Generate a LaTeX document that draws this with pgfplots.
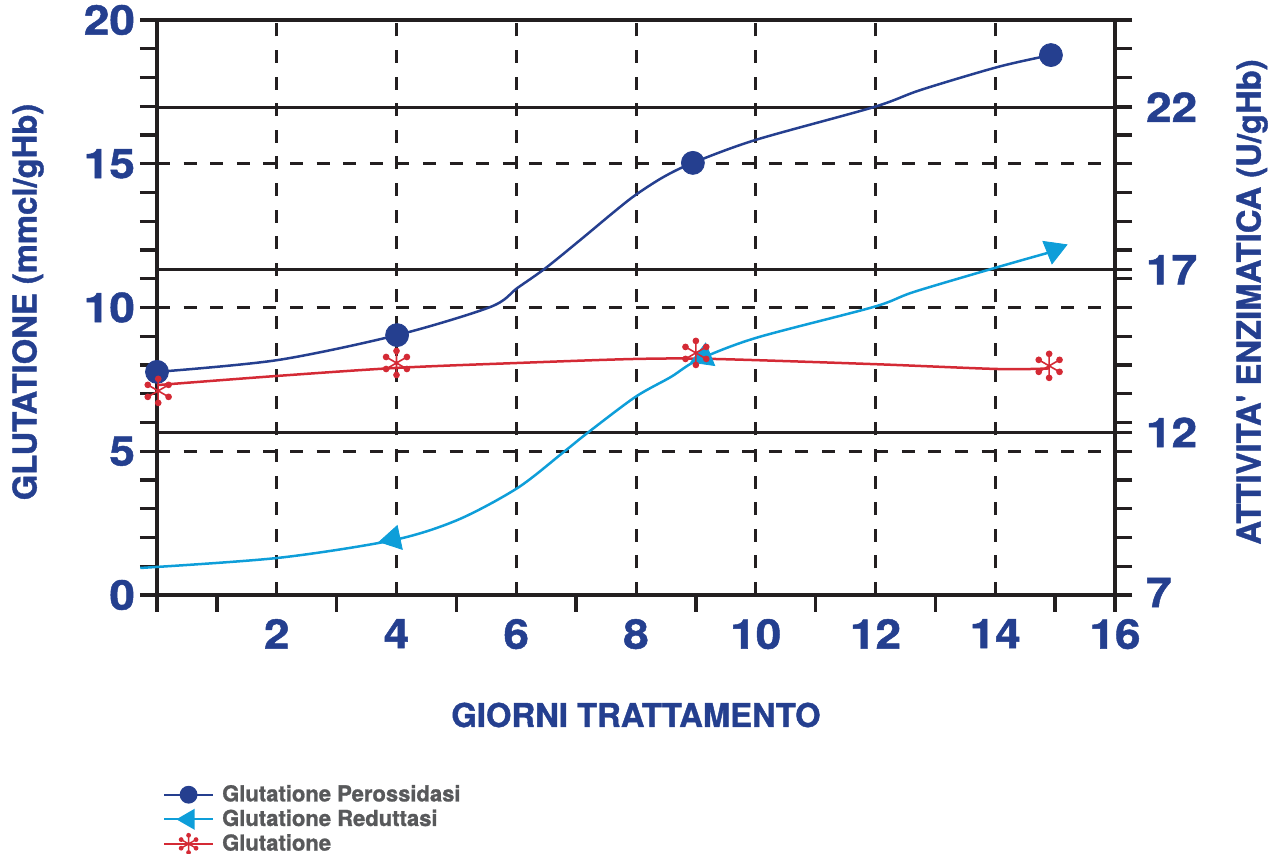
\documentclass[border=0pt]{standalone}
\usepackage{fontspec}
\setmainfont{TeX Gyre Heros}
\newfontfamily\heavyfont{TeX Gyre Heros}[BoldFeatures={FakeBold=1.2}]
\newfontfamily\digitfont{TeX Gyre Heros}[BoldFeatures={FakeBold=1.2, FakeStretch=1.12}]
\usepackage{pgfplots}
\pgfplotsset{compat=1.18}
\definecolor{tblue}{HTML}{243F8F}
\definecolor{pblue}{HTML}{253F8F}
\definecolor{lblue}{HTML}{0E9ED9}
\definecolor{gred}{HTML}{D42A35}
\definecolor{gridc}{HTML}{231F20}
\definecolor{leggray}{HTML}{58595B}

\pgfdeclareplotmark{dotstar}{%
  \pgfpathmoveto{\pgfqpointpolar{90}{\pgfplotmarksize}}\pgfpathlineto{\pgfqpointpolar{270}{\pgfplotmarksize}}%
  \pgfpathmoveto{\pgfqpointpolar{30}{\pgfplotmarksize}}\pgfpathlineto{\pgfqpointpolar{210}{\pgfplotmarksize}}%
  \pgfpathmoveto{\pgfqpointpolar{150}{\pgfplotmarksize}}\pgfpathlineto{\pgfqpointpolar{330}{\pgfplotmarksize}}%
  \pgfusepathqstroke
  \pgfpathcircle{\pgfqpointpolar{90}{\pgfplotmarksize}}{0.28\pgfplotmarksize}%
  \pgfpathcircle{\pgfqpointpolar{30}{\pgfplotmarksize}}{0.28\pgfplotmarksize}%
  \pgfpathcircle{\pgfqpointpolar{150}{\pgfplotmarksize}}{0.28\pgfplotmarksize}%
  \pgfpathcircle{\pgfqpointpolar{210}{\pgfplotmarksize}}{0.28\pgfplotmarksize}%
  \pgfpathcircle{\pgfqpointpolar{270}{\pgfplotmarksize}}{0.28\pgfplotmarksize}%
  \pgfpathcircle{\pgfqpointpolar{330}{\pgfplotmarksize}}{0.28\pgfplotmarksize}%
  \pgfusepathqfill
}

\begin{document}
\begin{tikzpicture}
\useasboundingbox (-78.5pt,-129.5pt) rectangle (561pt,297.5pt);
% ---------- right axis: enzymatic activity ----------
\begin{axis}[
  at={(0pt,0pt)}, anchor=south west,
  scale only axis, width=479pt, height=287.5pt,
  xmin=0, xmax=16, ymin=7, ymax=24.68,
  hide x axis,
  axis y line*=right,
  axis line style={line width=1.7pt, gridc},
  ytick={7,12,17,22},
  yticklabels={\raisebox{2.5pt}{7},12,17,22},
  tick align=outside,
  major tick length=8.5pt,
  tick style={line width=1.7pt, gridc},
  ymajorgrids,
  major grid style={solid, line width=1.5pt, gridc},
  /pgf/number format/assume math mode=true,
  yticklabel style={font=\fontsize{20.5}{24}\selectfont\digitfont\bfseries, text=tblue, xshift=3.5pt},
  ylabel={ATTIVITA' ENZIMATICA (U/gHb)},
  ylabel style={font=\fontsize{16.4}{19}\selectfont\heavyfont\bfseries, text=tblue, at={(axis description cs:1.143,0.5096)}, anchor=center},
]
\end{axis}
% ---------- main axis: glutatione ----------
\begin{axis}[
  at={(0pt,0pt)}, anchor=south west,
  scale only axis, width=479pt, height=287.5pt,
  xmin=0, xmax=16, ymin=0, ymax=20,
  clip=false,
  axis line style={line width=1.7pt, gridc},
  xtick={2,4,...,16},
  minor xtick={0,1,3,5,7,9,11,13,15,16},
  xtick pos=bottom,
  ytick={0,5,...,20},
  minor ytick={0,1,...,20},
  ytick pos=both, yticklabel pos=left,
  tick align=outside,
  major tick length=0pt, minor tick length=8.5pt,
  tick style={line width=1.7pt, gridc},
  grid=major,
  major grid style={dash pattern=on 6.5pt off 6.8pt, line width=1.5pt, gridc},
  /pgf/number format/assume math mode=true,
  ticklabel style={font=\fontsize{20.5}{24}\selectfont\digitfont\bfseries, text=tblue},
  xticklabel style={yshift=-8.5pt},
  yticklabel style={xshift=-7.5pt},
  xlabel={GIORNI TRATTAMENTO},
  xlabel style={font=\fontsize{16.4}{19}\selectfont\heavyfont\bfseries, text=tblue, at={(axis description cs:0.5,-0.2087)}, anchor=center},
  ylabel={GLUTATIONE (mmcl/gHb)},
  ylabel style={font=\fontsize{16.4}{19}\selectfont\heavyfont\bfseries, text=tblue, at={(axis description cs:-0.1347,0.5096)}, anchor=center},
  legend style={at={(axis description cs:0.00626,-0.327)}, anchor=north west, draw=none, fill=none,
    inner sep=0pt, outer sep=0pt, row sep=0.6pt, column sep=3pt,
    font=\fontsize{11}{12}\selectfont\heavyfont\bfseries, text=leggray,
    nodes={inner sep=1pt}},
  legend cell align=left,
  legend image code/.code={\draw[mark repeat=2,mark phase=2,#1] plot coordinates {(0pt,0pt) (12.25pt,0pt) (24.5pt,0pt)};},
]
% Glutatione Perossidasi (curve and points)
\addplot[pblue, line width=1.25pt, smooth, tension=0.5, forget plot] coordinates {
(0,7.76) (2.01,8.17) (4.01,9.04) (5.57,10.02) (6.02,10.68) (6.49,11.37) (7.07,12.35) (7.63,13.32)
(7.99,13.91) (8.46,14.54) (8.95,15.03) (10.0,15.83) (11.97,16.97) (12.76,17.57) (14.05,18.37) (14.93,18.78)};
\addplot[only marks, mark=*, mark size=5.75pt, pblue, forget plot] coordinates {
(0,7.76) (4.01,9.04) (8.95,15.03) (14.93,18.78)};
% Glutatione Reduttasi
\addplot[lblue, line width=1.25pt, smooth, tension=0.5, forget plot] coordinates {
(-0.28,0.94) (2.02,1.29) (3.95,1.91) (5.02,2.61) (6.02,3.72) (6.79,4.97) (7.21,5.67) (7.99,6.89)
(8.58,7.58) (9.03,8.17) (10.0,8.94) (11.97,10.02) (12.64,10.54) (14.05,11.41) (14.93,11.93)};
\addplot[only marks, mark=triangle*, mark size=7pt, lblue, mark options={rotate=102}, forget plot] coordinates {(3.94,1.95)};
\addplot[only marks, mark=triangle*, mark size=7pt, lblue, mark options={rotate=-8}, forget plot] coordinates {(9.13,8.28)};
\addplot[only marks, mark=triangle*, mark size=7pt, lblue, mark options={rotate=-68}, forget plot] coordinates {(14.98,12.0)};
% Glutatione
\addplot[gred, line width=1.25pt, smooth, tension=0.5, forget plot] coordinates {
(0,7.30) (2.01,7.62) (4.01,7.90) (6.02,8.07) (7.99,8.21) (9.30,8.21) (11.97,8.03) (14.05,7.86) (14.9,7.88)};
\addplot[only marks, mark=dotstar, mark size=6pt, gred, mark options={line width=0.8pt, fill=gred}, forget plot] coordinates {
(0.02,7.10) (4.0,8.07) (9.0,8.42) (14.9,7.97)};
% legend
\addlegendimage{pblue, line width=1.1pt, mark=*, mark size=3.9pt}
\addlegendentry{Glutatione Perossidasi}
\addlegendimage{lblue, line width=1.1pt, mark=triangle*, mark size=5pt, mark options={rotate=90}}
\addlegendentry{Glutatione Reduttasi}
\addlegendimage{gred, line width=1.1pt, mark=dotstar, mark size=4.3pt, mark options={line width=0.7pt, fill=gred}}
\addlegendentry{Glutatione}
\end{axis}
\end{tikzpicture}
\end{document}
